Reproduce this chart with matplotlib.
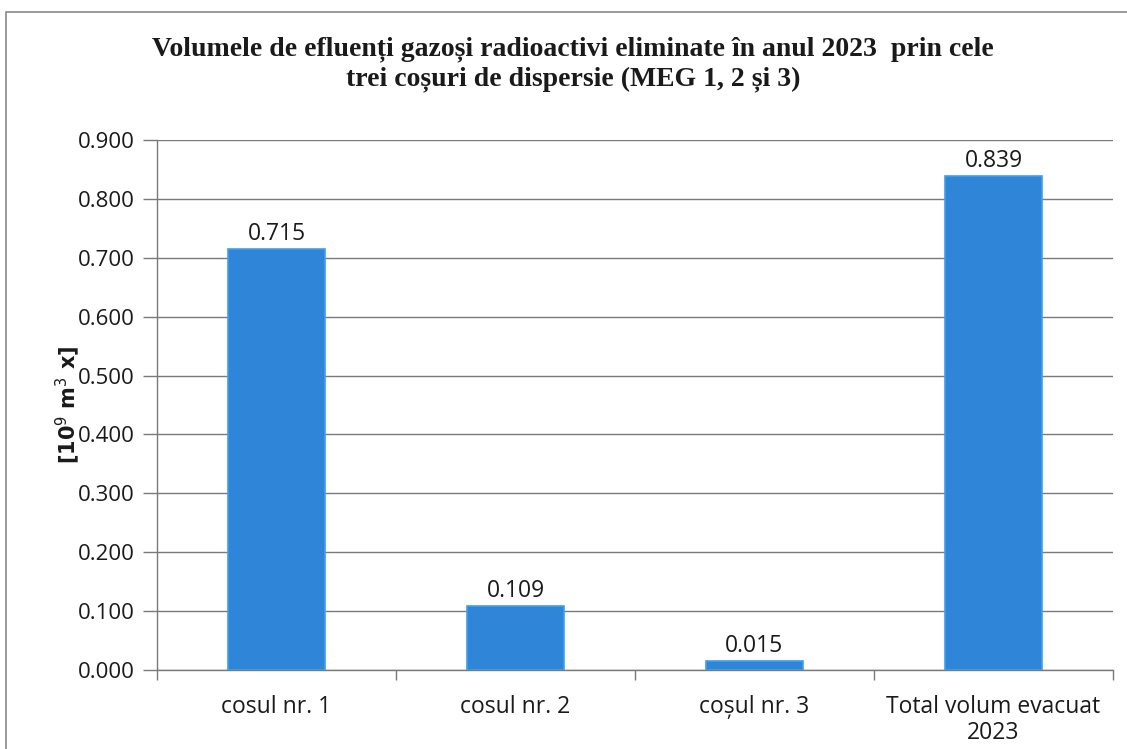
import matplotlib
matplotlib.use("Agg")
import matplotlib.pyplot as plt
from matplotlib.patches import Rectangle

categories = ["cosul nr. 1", "cosul nr. 2", "coșul nr. 3", "Total volum evacuat\n2023"]
values = [0.715, 0.109, 0.015, 0.839]
yticks = [0.0, 0.1, 0.2, 0.3, 0.4, 0.5, 0.6, 0.7, 0.8, 0.9]

title = ("Volumele de efluenți gazoși radioactivi eliminate în anul 2023  prin cele\n"
         "trei coșuri de dispersie (MEG 1, 2 și 3)")
ylabel = "[10$^{9}$ m$^{3}$ x]"

bar_color = "#2f86d8"
edge_color = "#3fa0ea"
text_color = "#1a1a1a"
grid_color = "#7a7a7a"
tick_font = "Open Sans"

fig = plt.figure(figsize=(11.27, 7.49), dpi=100)
fig.patch.set_facecolor("white")

# outer frame of the chart area
fig.add_artist(Rectangle((6 / 1127, -0.01), 1.2, 1 - 12 / 749 + 0.01,
                         transform=fig.transFigure, fill=False,
                         edgecolor="#8a8a8a", linewidth=1.2))

ax = fig.add_axes([157 / 1127, 1 - 670 / 749, (1113 - 157) / 1127, (670 - 140) / 749])

x = list(range(len(categories)))
bars = ax.bar(x, values, width=0.41, color=bar_color, edgecolor=edge_color,
              linewidth=1.2, zorder=3)

for rect, v in zip(bars, values):
    ax.text(rect.get_x() + rect.get_width() / 2, v + 0.005, f"{v:.3f}",
            ha="center", va="bottom", fontsize=16.5, family=tick_font,
            color=text_color, zorder=4)

ax.set_xlim(-0.5, len(categories) - 0.5)
ax.set_ylim(0, 0.9)
ax.set_yticks(yticks)
ax.set_yticklabels([f"{t:.3f}" for t in yticks], fontsize=16,
                   family=tick_font, color=text_color)
ax.yaxis.grid(True, color=grid_color, linewidth=1.0, zorder=0)
ax.set_axisbelow(True)

# category labels centred under the bars, ticks on category boundaries
ax.set_xticks([i - 0.5 for i in range(len(categories) + 1)])
ax.set_xticklabels([])
ax.tick_params(axis="x", direction="out", length=7, color=grid_color, width=1.0)
ax.tick_params(axis="y", direction="out", length=10, color=grid_color, width=1.0, pad=6)
for i, lab in enumerate(categories):
    ax.text(i, -0.042, lab, ha="center", va="top", fontsize=16.5, family=tick_font,
            color=text_color, linespacing=1.12, transform=ax.transData)

for side in ("top", "right"):
    ax.spines[side].set_visible(False)
for side in ("left", "bottom"):
    ax.spines[side].set_color(grid_color)
    ax.spines[side].set_linewidth(1.0)

ax.set_ylabel(ylabel, fontsize=15, fontweight="bold", family="DejaVu Sans",
              color=text_color)
ax.yaxis.set_label_coords(-0.078, 0.5)

fig.text(573 / 1127, 1 - 64 / 749, title, ha="center", va="center",
         fontsize=20, fontweight="bold", family="Liberation Serif",
         color=text_color, linespacing=1.25)

fig.savefig("out.png", dpi=100)
